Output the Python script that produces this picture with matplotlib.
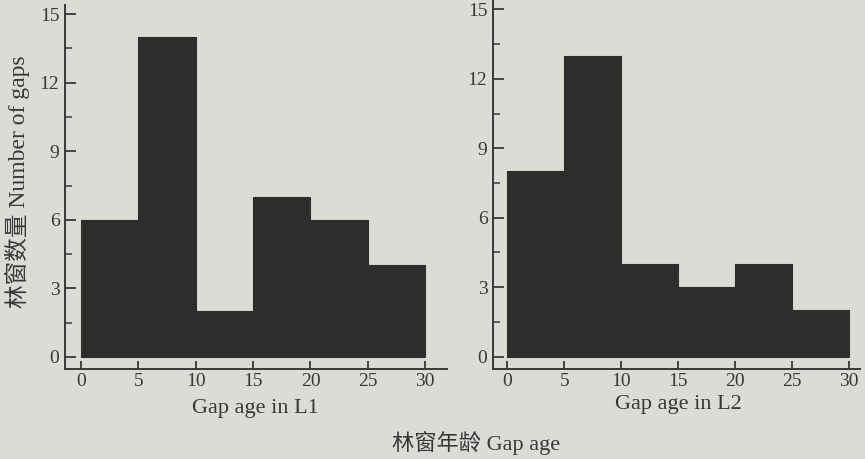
import matplotlib
matplotlib.use("Agg")
import matplotlib.pyplot as plt
from matplotlib.ticker import MultipleLocator

# Gap-age classes (years) and gap counts for the two plots
bin_edges = [0, 5, 10, 15, 20, 25, 30]
counts_l1 = [6, 14, 2, 7, 6, 4]
counts_l2 = [8, 13, 4, 3, 4, 2]
x_ticks = [0, 5, 10, 15, 20, 25, 30]
y_ticks = [0, 3, 6, 9, 12, 15]

xlabel_l1 = "Gap age in L1"
xlabel_l2 = "Gap age in L2"
ylabel = "林窗数量 Number of gaps"
common_xlabel = "林窗年龄 Gap age"

paper = "#dcdcd6"
ink = "#2d2d2d"
text_col = "#383838"
fonts = ["Liberation Serif", "Noto Sans CJK SC"]

plt.rcParams["font.family"] = fonts

W, H = 865, 459
fig = plt.figure(figsize=(W / 100, H / 100), dpi=100, facecolor=paper)


def px_axes(x0, y_top, x1, y_bot):
    return fig.add_axes([x0 / W, 1 - y_bot / H, (x1 - x0) / W, (y_bot - y_top) / H])


def draw_panel(ax, counts, xlim):
    lefts = bin_edges[:-1]
    widths = [b - a for a, b in zip(bin_edges[:-1], bin_edges[1:])]
    ax.bar(lefts, counts, width=widths, align="edge", color=ink,
           edgecolor=ink, linewidth=0.8)
    ax.set_facecolor("none")
    ax.set_xlim(*xlim)
    ax.set_ylim(-0.53, 15.4)
    for side in ("top", "right"):
        ax.spines[side].set_visible(False)
    for side in ("left", "bottom"):
        ax.spines[side].set_color(text_col)
        ax.spines[side].set_linewidth(1.4)
    ax.set_xticks(x_ticks)
    ax.set_yticks(y_ticks)
    ax.yaxis.set_minor_locator(MultipleLocator(1.5))
    ax.tick_params(axis="x", direction="in", length=6, width=1.3,
                   colors=text_col, labelsize=14, pad=3)
    ax.tick_params(axis="y", which="major", direction="in", length=8,
                   width=1.3, colors=text_col, labelsize=14, pad=4)
    ax.tick_params(axis="y", which="minor", direction="in", length=5,
                   width=1.1, colors=text_col)


ax1 = px_axes(65, 5, 447, 369)
draw_panel(ax1, counts_l1, (-1.4, 31.9))

ax2 = px_axes(493, 0, 860, 369)
draw_panel(ax2, counts_l2, (-1.25, 30.94))

fig.text(255 / W, 1 - 408 / H, xlabel_l1, ha="center", va="center",
         fontsize=16, color=text_col)
fig.text(678 / W, 1 - 405 / H, xlabel_l2, ha="center", va="center",
         fontsize=16, color=text_col)
fig.text(17 / W, 1 - 182 / H, ylabel, ha="center", va="center",
         rotation=90, fontsize=17, color=text_col)
fig.text(476 / W, 1 - 443 / H, common_xlabel, ha="center", va="center",
         fontsize=16, color=text_col)

fig.savefig("out.png", dpi=100, facecolor=paper)
